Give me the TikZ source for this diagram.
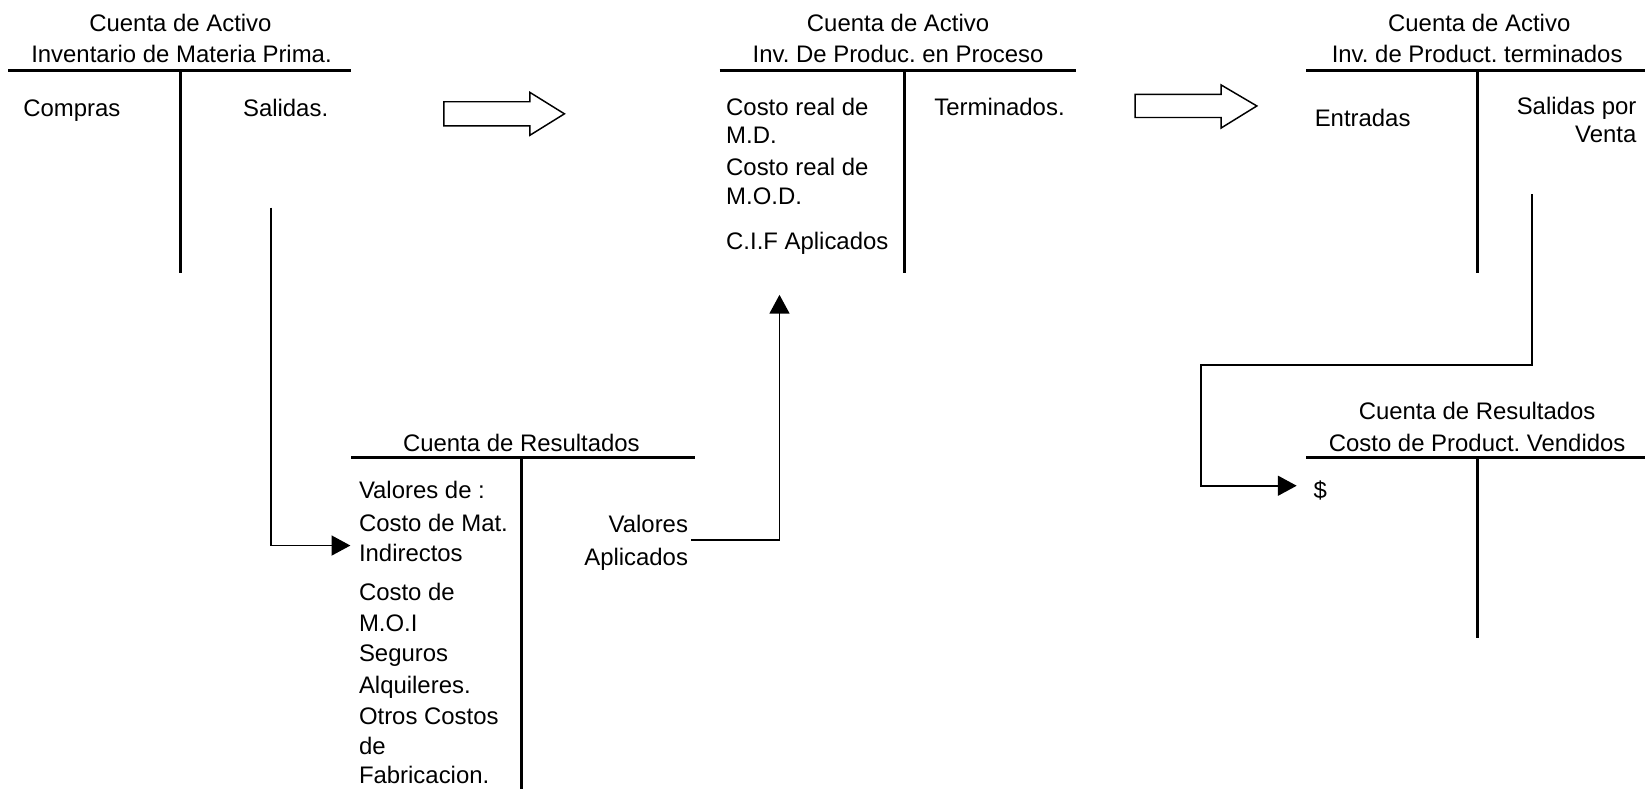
\documentclass[tikz,border=0pt]{standalone}
\usepackage{fontspec}
\setmainfont{Liberation Sans}
\usetikzlibrary{arrows.meta}
\frenchspacing
\begin{document}
\begin{tikzpicture}[x=1pt,y=-1pt,
  txt/.style={inner sep=0pt, font=\fontsize{22.8}{27}\selectfont},
  tline/.style={line width=3pt},
  conn/.style={line width=1.8pt},
  connarrow/.style={conn, -{Triangle[length=18pt,width=19pt]}},
  blockarrow/.style={line width=1.4pt, line join=miter, fill=white}]
\useasboundingbox (0,0) rectangle (1568,752);

% --- Account: Inventario de Materia Prima ---
\node[txt, anchor=base] (a1) at (172,30) {Cuenta de Activo};
\node[txt, anchor=base] (a2) at (173,60) {Inventario de Materia Prima.};
\draw[tline] (8,67) -- (335,67);
\draw[tline] (172,67) -- (172,260);
\node[txt, anchor=base west] (a3) at (22,111) {Compras};
\node[txt, anchor=base east] (a4) at (313,111) {Salidas.};

% --- Account: Inv. De Produc. en Proceso ---
\node[txt, anchor=base] (b1) at (856,30) {Cuenta de Activo};
\node[txt, anchor=base] (b2) at (856,60) {Inv. De Produc. en Proceso};
\draw[tline] (686,67) -- (1026,67);
\draw[tline] (862,67) -- (862,260);
\node[txt, anchor=base west] (b3) at (692,110) {Costo real de};
\node[txt, anchor=base west] (b4) at (692,137) {M.D.};
\node[txt, anchor=base west] (b5) at (692,167) {Costo real de};
\node[txt, anchor=base west] (b6) at (692,195) {M.O.D.};
\node[txt, anchor=base west] (b7) at (692,238) {C.I.F Aplicados};
\node[txt, anchor=base east] (b8) at (1015,110) {Terminados.};

% --- Account: Inv. de Product. terminados ---
\node[txt, anchor=base] (c1) at (1410,30) {Cuenta de Activo};
\node[txt, anchor=base] (c2) at (1408,60) {Inv. de Product. terminados};
\draw[tline] (1245,67) -- (1568,67);
\draw[tline] (1408,67) -- (1408,260);
\node[txt, anchor=base west] (c3) at (1253,121) {Entradas};
\node[txt, anchor=base east] (c4) at (1560,109) {Salidas por};
\node[txt, anchor=base east] (c5) at (1560,136) {Venta};

% --- Account: Costo de Product. Vendidos ---
\node[txt, anchor=base] (d1) at (1408,400) {Cuenta de Resultados};
\node[txt, anchor=base] (d2) at (1408,430) {Costo de Product. Vendidos};
\draw[tline] (1245,436) -- (1568,436);
\draw[tline] (1408,436) -- (1408,608);
\node[txt, anchor=base west] (d3) at (1252,475) {\$};

% --- Account: Cuenta de Resultados (C.I.F.) ---
\node[txt, anchor=base] (e1) at (497,430) {Cuenta de Resultados};
\draw[tline] (335,436) -- (662,436);
\draw[tline] (497,436) -- (497,752);
\node[txt, anchor=base west] (e2) at (342,475) {Valores de :};
\node[txt, anchor=base west] (e3) at (342,507) {Costo de Mat.};
\node[txt, anchor=base west] (e4) at (342,535) {Indirectos};
\node[txt, anchor=base west] (e5) at (342,572) {Costo de};
\node[txt, anchor=base west] (e6) at (342,602) {M.O.I};
\node[txt, anchor=base west] (e7) at (342,631) {Seguros};
\node[txt, anchor=base west] (e8) at (342,661) {Alquileres.};
\node[txt, anchor=base west] (e9) at (342,691) {Otros Costos};
\node[txt, anchor=base west] (e10) at (342,719) {de};
\node[txt, anchor=base west] (e11) at (342,747) {Fabricacion.};
\node[txt, anchor=base east] (e12) at (656,508) {Valores};
\node[txt, anchor=base east] (e13) at (656,539) {Aplicados};

% --- Block arrows between the asset accounts ---
\draw[blockarrow] (423,97) -- (505,97) -- (505,88) -- (538,108.5) -- (505,129)
  -- (505,120) -- (423,120) -- cycle;
\draw[blockarrow] (1082,90) -- (1164,90) -- (1164,81) -- (1198,101) -- (1164,122)
  -- (1164,112) -- (1082,112) -- cycle;

% --- Connector endpoints ---
\coordinate (s1) at (258,198);
\coordinate (s1b) at (258,520);
\coordinate (s1e) at (334,520);
\coordinate (s2) at (659,515);
\coordinate (s2b) at (743,515);
\coordinate (s2e) at (743,281);
\coordinate (s3) at (1460,185);
\coordinate (s3b) at (1460,348);
\coordinate (s3c) at (1145,348);
\coordinate (s3d) at (1145,463);
\coordinate (s3e) at (1236,463);

% --- Connectors ---
\draw[connarrow] (s1) -- (s1b) -- (s1e);
\draw[connarrow] (s2) -- (s2b) -- (s2e);
\draw[connarrow] (s3) -- (s3b) -- (s3c) -- (s3d) -- (s3e);
\end{tikzpicture}
\end{document}
